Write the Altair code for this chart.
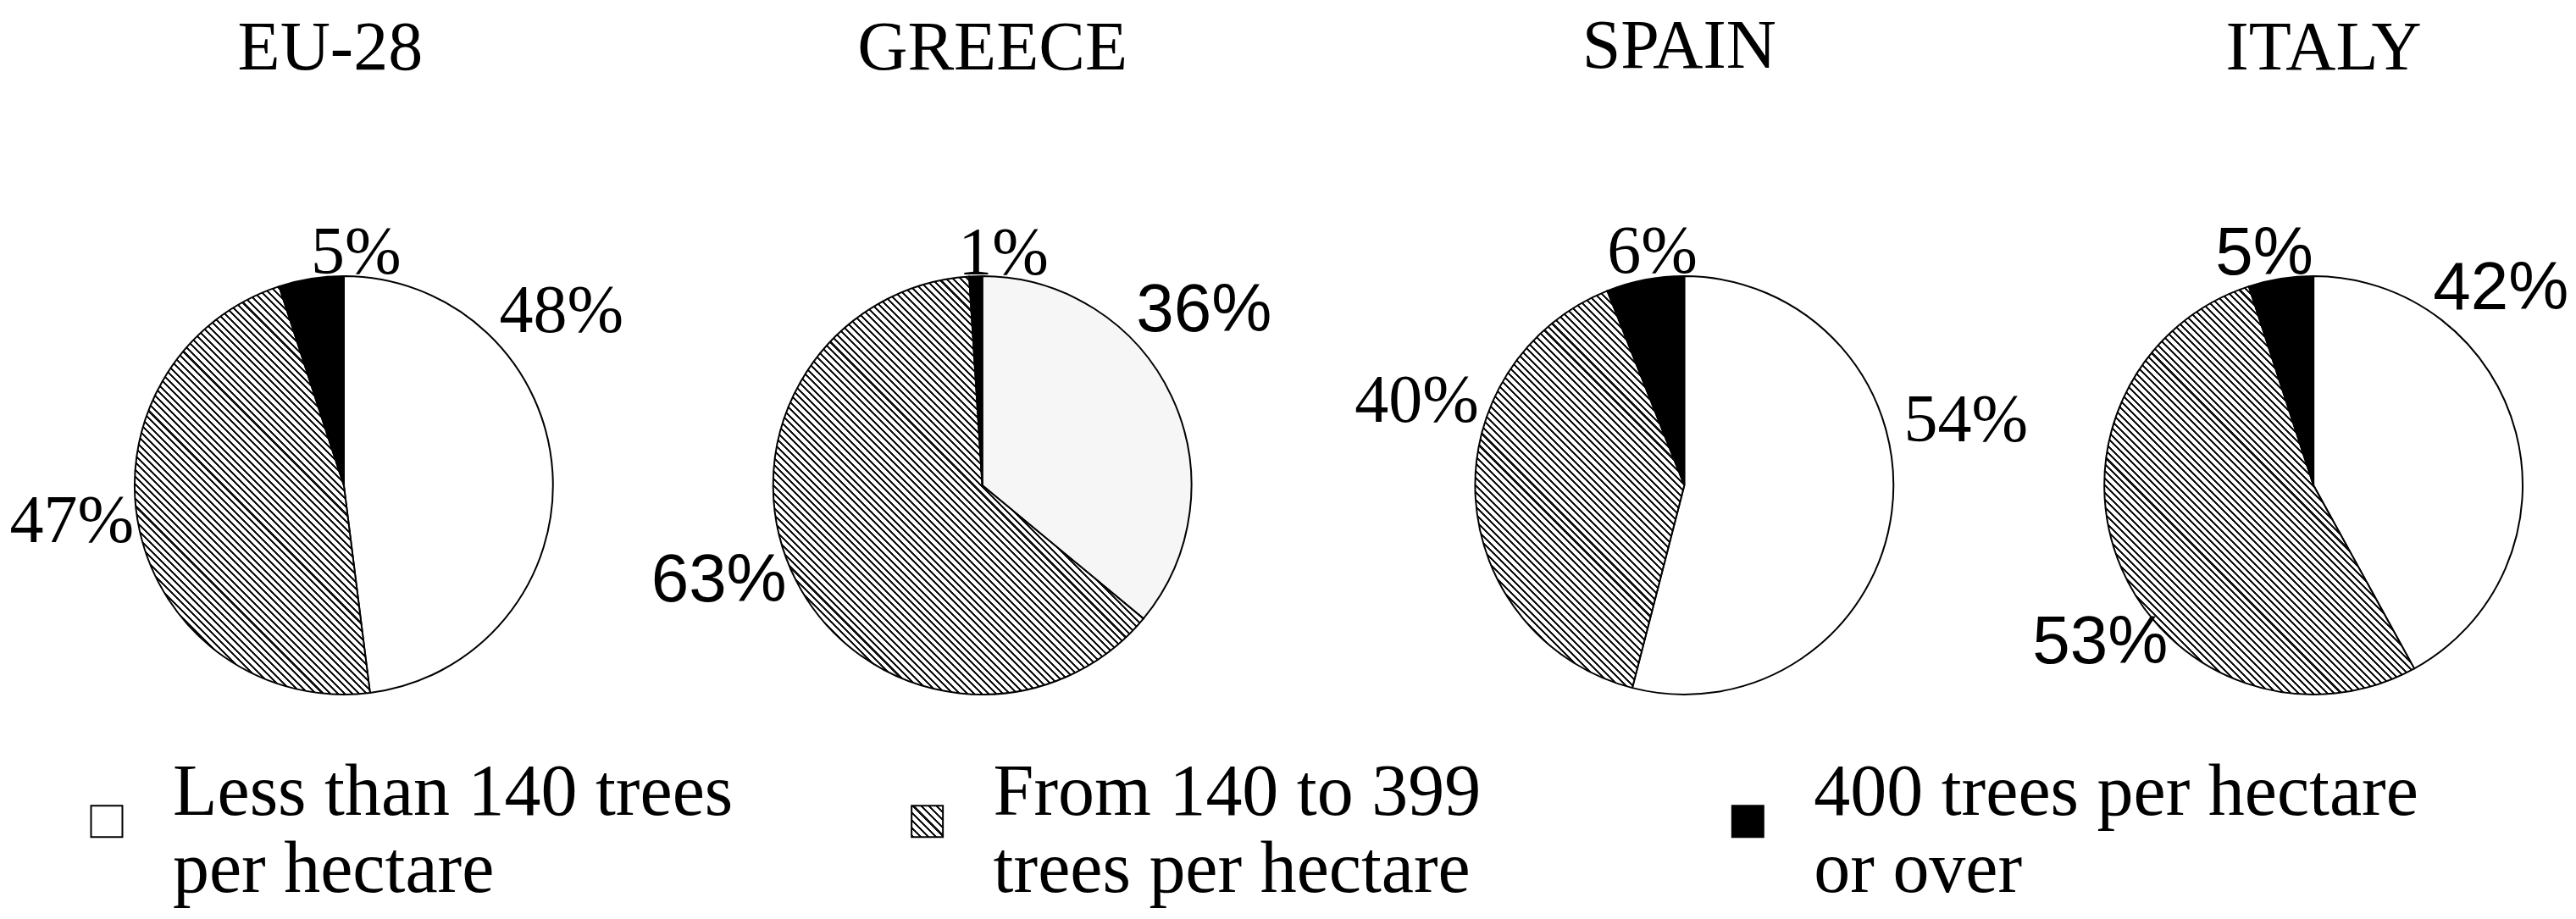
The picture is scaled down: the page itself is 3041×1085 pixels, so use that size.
import math
import altair as alt
import pandas as pd

# ---------------- data ----------------
countries = ["EU-28", "GREECE", "SPAIN", "ITALY"]
categories = [
    "Less than 140 trees per hectare",
    "From 140 to 399 trees per hectare",
    "400 trees per hectare or over",
]
legend_lines = [
    ["Less than 140 trees", "per hectare"],
    ["From 140 to 399", "trees per hectare"],
    ["400 trees per hectare", "or over"],
]
share_low = [48, 36, 54, 42]
share_mid = [47, 63, 40, 53]
share_high = [5, 1, 6, 5]

# ---------------- layout / style ----------------
PANEL_W = [796, 712, 946, 540]
PANEL_H = 560
PIE_R = 247
TITLE_OFFSET = 161
TITLE_DX = [-16, 12, -6, 12]
SERIF = "Liberation Serif"
SANS = "Liberation Sans"
LOW_FILL = {"GREECE": "#f6f6f6"}
# per label: (angle shift in degrees from slice middle, distance from centre, font)
LABEL_STYLE = {
    "EU-28": [(-35, 329, SERIF), (5, 324, SERIF), (12, 274, SERIF)],
    "GREECE": [(-13, 333, SANS), (7, 331, SANS), (7, 274, SERIF)],
    "SPAIN": [(-20, 341, SERIF), (21, 331, SERIF), (3, 278, SERIF)],
    "ITALY": [(-32, 321, SANS), (-13, 313, SANS), (-3, 279, SANS)],
}
HATCH_PERIOD = 8.5
HATCH_INK = 0.36


def hatch_gradient(w, h):
    """Diagonal '\\' stripes as a hard-stop linear gradient over a w x h box."""
    s = (w + h) / (w * w + h * h)
    n = max(3, int(round((w + h) / HATCH_PERIOD)))
    stops = []
    for k in range(n):
        o0 = round(k / n, 6)
        o1 = round((k + HATCH_INK) / n, 6)
        o2 = round((k + 1) / n, 6)
        stops += [
            {"offset": o0, "color": "#111111"},
            {"offset": o1, "color": "#111111"},
            {"offset": o1, "color": "#ffffff"},
            {"offset": o2, "color": "#ffffff"},
        ]
    return {
        "gradient": "linear",
        "x1": 0,
        "y1": 1,
        "x2": round(s * w, 6),
        "y2": round(1 - s * h, 6),
        "stops": stops,
    }


def wedge_box(f0, f1, r):
    a0, a1 = f0 * 2 * math.pi, f1 * 2 * math.pi
    pts = [(0.0, 0.0), (r * math.sin(a0), -r * math.cos(a0)), (r * math.sin(a1), -r * math.cos(a1))]
    for k in range(5):
        a = k * math.pi / 2
        if a0 < a < a1:
            pts.append((r * math.sin(a), -r * math.cos(a)))
    xs = [p[0] for p in pts]
    ys = [p[1] for p in pts]
    return max(xs) - min(xs), max(ys) - min(ys)


theta_scale = alt.Scale(domain=[0, 100], range=[0, 2 * math.pi])


def panel(i):
    c = countries[i]
    vals = [share_low[i], share_mid[i], share_high[i]]
    style = LABEL_STYLE[c]
    df = pd.DataFrame(
        {
            "cat": categories,
            "value": vals,
            "order": [0, 1, 2],
            "dang": [s[0] for s in style],
            "dist": [s[1] for s in style],
            "font": [s[2] for s in style],
        }
    )
    W = PANEL_W[i]
    base = (
        alt.Chart(df)
        .transform_window(end="sum(value)", sort=[{"field": "order"}], frame=[None, 0])
        .transform_calculate(start="datum.end - datum.value")
    )
    enc = dict(theta=alt.Theta("start:Q", scale=theta_scale), theta2=alt.Theta2("end:Q"))

    w, h = wedge_box(vals[0] / 100, (vals[0] + vals[1]) / 100, PIE_R)
    low = base.transform_filter("datum.order == 0").mark_arc(
        radius=PIE_R, fill=LOW_FILL.get(c, "#ffffff"), stroke="#000000", strokeWidth=2
    ).encode(**enc)
    mid = base.transform_filter("datum.order == 1").mark_arc(
        radius=PIE_R, fill=hatch_gradient(w, h), stroke="#000000", strokeWidth=2
    ).encode(**enc)
    high = base.transform_filter("datum.order == 2").mark_arc(
        radius=PIE_R, fill="#000000", stroke="#000000", strokeWidth=2
    ).encode(**enc)

    lab = base.transform_calculate(
        ang="(datum.start + datum.end) / 200 * 2 * PI + datum.dang * PI / 180",
        label="datum.value + '%'",
    ).transform_calculate(
        lx=f"{W / 2} + datum.dist * sin(datum.ang)",
        ly=f"{PANEL_H / 2} - datum.dist * cos(datum.ang)",
    )
    layers = [low, mid, high]
    for fnt in (SERIF, SANS):
        if fnt in df["font"].values:
            layers.append(
                lab.transform_filter(f"datum.font == '{fnt}'")
                .mark_text(font=fnt, fontSize=80, align="center", baseline="middle", color="#000000")
                .encode(
                    x=alt.X("lx:Q", scale=None, axis=None),
                    y=alt.Y("ly:Q", scale=None, axis=None),
                    text="label:N",
                )
            )
    return alt.layer(*layers).properties(
        width=W,
        height=PANEL_H,
        title=alt.TitleParams(
            c, font=SERIF, fontSize=82, fontWeight="normal", color="#000000",
            anchor="middle", offset=TITLE_OFFSET, dx=TITLE_DX[i],
        ),
    )


# ---------------- legend ----------------
LEG_W = 2174
leg_df = pd.DataFrame({"cat": categories, "text": legend_lines, "order": [0, 1, 2]})
leg_x = alt.X(
    "cat:N",
    scale=alt.Scale(type="point", domain=categories, padding=0.1218),
    axis=None,
)
leg_base = alt.Chart(leg_df)
sq_fills = ["#ffffff", hatch_gradient(36, 36), "#000000"]
leg_layers = []
for k in range(3):
    leg_layers.append(
        leg_base.transform_filter(f"datum.order == {k}")
        .mark_square(size=1369, fill=sq_fills[k], fillOpacity=1, stroke="#000000", strokeWidth=2, opacity=1)
        .encode(x=leg_x, y=alt.value(117))
    )
leg_layers.append(
    leg_base.mark_text(
        align="left", baseline="alphabetic", dx=78, font=SERIF, fontSize=86, lineHeight=91, color="#000000"
    ).encode(x=leg_x, y=alt.value(109), text="text")
)
legend = alt.layer(*leg_layers).properties(width=LEG_W, height=222)

row = alt.hconcat(*[panel(i) for i in range(4)], spacing=0, bounds="flush")
chart = (
    alt.vconcat(row, legend, spacing=0)
    .properties(
        padding={"left": 0, "top": 5, "right": 0, "bottom": 0},
        background="#ffffff",
    )
    .configure_view(stroke=None, strokeWidth=0)
)

chart.save("out.html", embed_options={"renderer": "svg", "actions": False})
